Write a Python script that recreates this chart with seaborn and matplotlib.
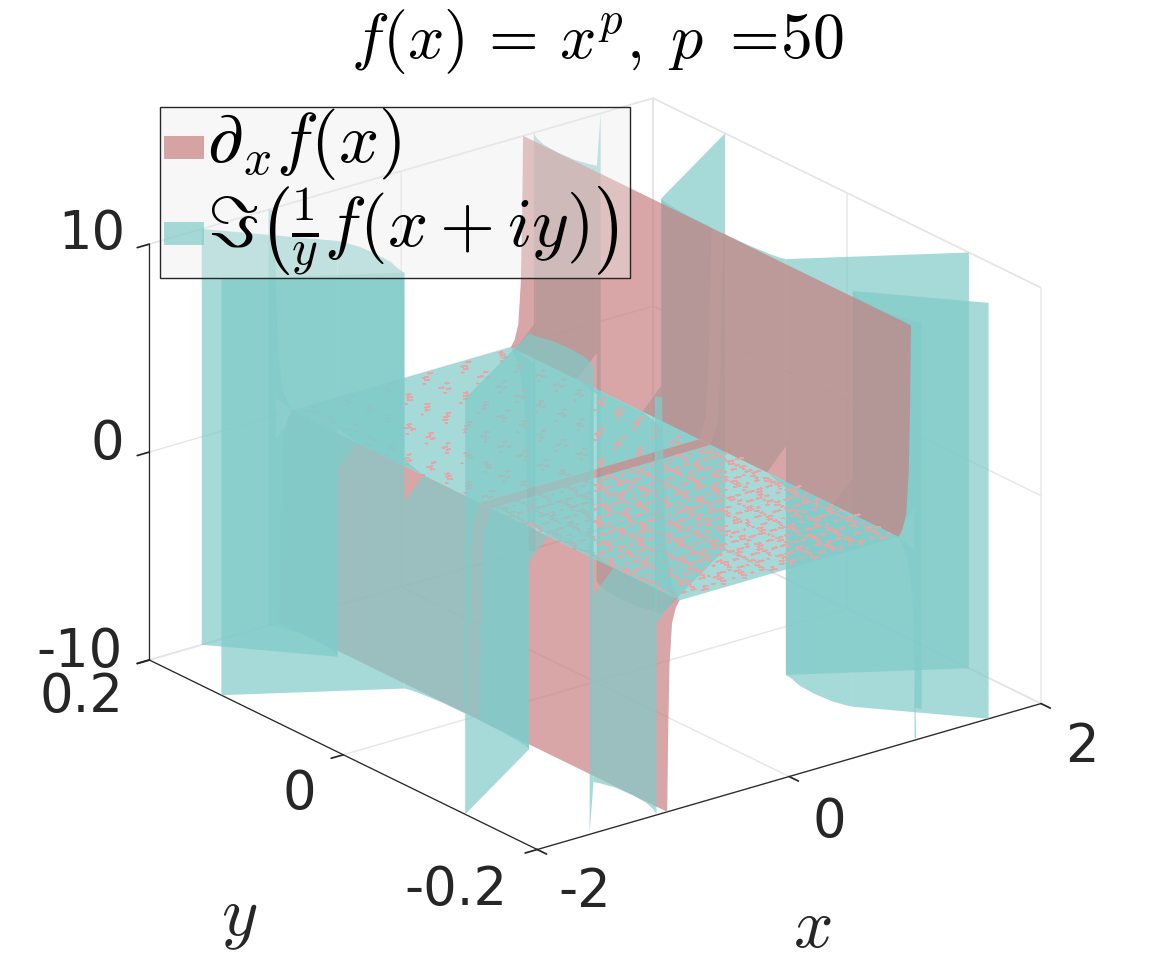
import numpy as np
import matplotlib
matplotlib.use("Agg")
import matplotlib.pyplot as plt
from matplotlib.patches import Patch, Rectangle
from matplotlib.legend_handler import HandlerPatch
from mpl_toolkits.mplot3d import proj3d
from mpl_toolkits.mplot3d.art3d import Poly3DCollection
import seaborn as sns

# ---- values ----
x_ticks = [-2, 0, 2]
y_ticks = [-0.2, 0, 0.2]
z_ticks = [-10, 0, 10]
x_tick_labels = ['-2', '0', '2']
y_tick_labels = ['-0.2', '0', '0.2']
z_tick_labels = ['-10', '0', '10']
title_text = r'$f(x)\,=\,x^p,\;p\;=\!50$'
label_red = r'$\partial_x f(x)$'
label_cyan = r'$\Im\left(\frac{1}{y}f(x+iy)\right)$'

# red sheet: height against |x| (odd in x, the same for every y)
red_abs_x = [0.87, 0.90, 0.93, 0.95, 0.96, 0.968]
red_abs_z = [0, 0.3, 1, 3, 6, 10]

# cyan vertical sheets running outward (first quadrant, mirrored in x and y)
ray_x_inner = [1.02, 1.03, 1.03]
ray_y_inner = [0.0642, 0.132, 0.1956]
ray_x_outer = [2.0, 1.584, 1.053]
ray_y_outer = [0.1257, 0.2, 0.2]
short_ray_bottom = -8.6

# cyan rim sheets near |x| = 1: height levels, footprint rows per level
rim_levels = [0, 1, 3, 10]
rim_y = [
    [0.006, 0.03, 0.05, 0.0600, 0.0642],
    [0.0642, 0.072, 0.083, 0.0995, 0.116, 0.127, 0.132],
    [0.132, 0.137, 0.148, 0.164, 0.18, 0.191, 0.1956],
    [0.1956, 0.2],
]
rim_x = [
    [[.87, .87, .87, .87, .87], [.925, .927, .935, .95, 1.02],
     [.945, .95, .97, .985, 1.02], [.97, .975, .99, 1.005, 1.02]],
    [[.87] * 7, [1.02, .95, .93, .925, .93, .95, 1.03],
     [1.02, .985, .955, .945, .955, .985, 1.03], [1.02, 1.01, .98, .97, .98, 1.01, 1.03]],
    [[.87] * 7, [1.03, .95, .93, .925, .93, .95, 1.03],
     [1.03, .985, .955, .945, .955, .985, 1.03], [1.03, 1.01, .98, .97, .98, 1.01, 1.03]],
    [[.87, .87], [1.03, .935], [1.03, .98], [1.03, 1.01]],
]
rim_sign = [1, -1, 1, -1]
plate_half_x = 0.87
stripe_half_y = 0.006

# pixel offsets (right, down) of each label from the point on its axis
x_label_offset = [(47, 42), (40, 45), (41, 43)]
y_label_offset = [(-81, 40), (-44, 39), (-68, 37)]
z_label_offset = [(-70, -8), (-42, -8), (-58, -10)]
x_title_offset = (23, 151)
y_title_offset = (-104, 164)

red_rgba = (200 / 255, 128 / 255, 128 / 255, 0.7)
cyan_rgba = (128 / 255, 203 / 255, 201 / 255, 0.7)
fleck_rgb = '#e6a6a6'

sns.set_theme(style='white')
plt.rcParams['font.family'] = ['DejaVu Sans']
plt.rcParams['mathtext.fontset'] = 'cm'
plt.rcParams['axes.unicode_minus'] = False
ink = '#262626'


def outline(X, Y, Z):
    """Boundary of a row-by-column sheet as one polygon."""
    X, Y, Z = np.asarray(X, float), np.asarray(Y, float), np.asarray(Z, float)
    idx = ([(0, j) for j in range(X.shape[1])]
           + [(i, X.shape[1] - 1) for i in range(1, X.shape[0])]
           + [(X.shape[0] - 1, j) for j in range(X.shape[1] - 2, -1, -1)]
           + [(i, 0) for i in range(X.shape[0] - 2, 0, -1)])
    return [(X[p], Y[p], Z[p]) for p in idx]


def depth(poly):
    p = np.asarray(poly)
    return np.mean(0.61 * p[:, 0] / 4 + 0.79 * p[:, 1] / 0.4)


def red_wall(sx):
    xs = sx * np.array(red_abs_x)
    zs = sx * np.array(red_abs_z)
    return outline(np.vstack([xs, xs]),
                   np.vstack([np.full_like(xs, y_ticks[0]), np.full_like(xs, y_ticks[2])]),
                   np.vstack([zs, zs]))


def cyan_walls(sx):
    polys = []
    for sy in (1, -1):
        for k in range(3):
            bottom = short_ray_bottom if (k == 2 and sx > 0 and sy < 0) else z_ticks[0]
            polys.append(outline(sx * np.array([[ray_x_inner[k], ray_x_outer[k]]] * 2),
                                 sy * np.array([[ray_y_inner[k], ray_y_outer[k]]] * 2),
                                 [[bottom] * 2, [z_ticks[2]] * 2]))
        for s in range(4):
            ys = np.array(rim_y[s])
            polys.append(outline(sx * np.array(rim_x[s], float),
                                 sy * np.vstack([ys] * len(rim_levels)),
                                 sx * rim_sign[s] * np.array([[v] * len(ys) for v in rim_levels], float)))
    return sorted(polys, key=depth, reverse=True)


fig = plt.figure(figsize=(11.52, 9.68), dpi=100)
S = 900
cx, cy = 583, 486
ax = fig.add_axes([(cx - S / 2) / 1152, (968 - cy - S / 2) / 968, S / 1152, S / 968],
                  projection='3d')
ax.set_proj_type('ortho')
ax.view_init(elev=22.1, azim=-127.6)
ax.set_box_aspect((636, 636, 449), zoom=1.084)
ax.computed_zorder = False
ax.set_xlim(x_ticks[0], x_ticks[-1], view_margin=0)
ax.set_ylim(y_ticks[0], y_ticks[-1], view_margin=0)
ax.set_zlim(z_ticks[0], z_ticks[-1], view_margin=0)

order = [10]


def put(polys, rgba, aa=True):
    col = Poly3DCollection(polys, facecolors=[rgba], edgecolors='none', linewidths=0,
                           antialiased=aa, zorder=order[0])
    ax.add_collection3d(col, autolim=False)
    order[0] += 1


# far side first, near side last
for poly in cyan_walls(1):
    put([poly], cyan_rgba)
put([red_wall(1)], red_rgba)

# flat middle: cyan with the red sheet showing through in flecks and along y = 0
px = plate_half_x
for y0, y1 in ((stripe_half_y, y_ticks[2]), (y_ticks[0], -stripe_half_y)):
    put([[(-px, y0, 0), (px, y0, 0), (px, y1, 0), (-px, y1, 0)]], cyan_rgba)
put([[(-px, -stripe_half_y, 0), (px, -stripe_half_y, 0),
      (px, stripe_half_y, 0), (-px, stripe_half_y, 0)]], red_rgba)
flecks = []
rows = np.arange(y_ticks[0] + 0.004, y_ticks[2], 0.004)
cols = np.arange(-px, px - 0.05, 0.06)
for j, yy in enumerate(rows):
    for i, xx in enumerate(cols):
        pick = (11 * i + 3 * j * j + i * j) % (3 if yy < 0 else 5)
        if pick < 1 and abs(yy) > stripe_half_y:
            x0 = xx + 0.05 * ((5 * j * j + 3 * i) % 13) / 13
            x1 = x0 + 0.012 + 0.009 * ((i * i + j) % 5)
            flecks.append([(x0, yy, 0), (x1, yy, 0), (x1, yy + 0.0018, 0), (x0, yy + 0.0018, 0)])
put(flecks, fleck_rgb, aa=False)

put([red_wall(-1)], red_rgba)
for poly in cyan_walls(-1):
    put([poly], cyan_rgba)

ax.set_xticks(x_ticks, [''] * 3)
ax.set_yticks(y_ticks, [''] * 3)
ax.set_zticks(z_ticks, [''] * 3)
for axis in (ax.xaxis, ax.yaxis, ax.zaxis):
    axis.pane.set_facecolor('white')
    axis.pane.set_edgecolor('#e2e2e2')
    axis.pane.set_alpha(1)
    axis.line.set_color(ink)
    axis.line.set_linewidth(0.9)
    axis._axinfo['grid'].update(color='#e6e6e6', linewidth=1.0)
    axis._axinfo['tick'].update(inward_factor=0.3, outward_factor=0.0, color=ink)
ax.grid(True)

M = ax.get_proj()


def axis_text(text, point, offset, **kw):
    X, Y, _ = proj3d.proj_transform(*point, M)
    ax.annotate(text, xy=(X, Y), xycoords='data', xytext=(offset[0], -offset[1]),
                textcoords='offset pixels', ha='center', va='center',
                annotation_clip=False, zorder=1000, **kw)


for val, lab, off in zip(x_ticks, x_tick_labels, x_label_offset):
    axis_text(lab, (val, y_ticks[0], z_ticks[0]), off, fontsize=38, color=ink)
for val, lab, off in zip(y_ticks, y_tick_labels, y_label_offset):
    axis_text(lab, (x_ticks[0], val, z_ticks[0]), off, fontsize=38, color=ink)
for val, lab, off in zip(z_ticks, z_tick_labels, z_label_offset):
    axis_text(lab, (x_ticks[0], y_ticks[2], val), off, fontsize=38, color=ink)
axis_text('$x$', (x_ticks[1], y_ticks[0], z_ticks[0]), x_title_offset, fontsize=50, color=ink)
axis_text('$y$', (x_ticks[0], y_ticks[1], z_ticks[0]), y_title_offset, fontsize=50, color=ink)

fig.text(598 / 1152, 1 - 42 / 968, title_text, fontsize=46, color='black',
         ha='center', va='center')

# legend box drawn at its own size, the entries go on top of it
fig.add_artist(Rectangle((160 / 1152, 1 - 278 / 968), 470 / 1152, 171 / 968,
                         transform=fig.transFigure, facecolor=(0.92, 0.92, 0.92, 0.4),
                         edgecolor=ink, linewidth=1.0, zorder=4))


def legend_swatch(legend, orig_handle, xdescent, ydescent, width, height, fontsize):
    return Rectangle((4.0, 1.6), 28.6, 16.6)


handles = [Patch(color=red_rgba[:3], alpha=0.7, linewidth=0),
           Patch(color=cyan_rgba[:3], alpha=0.7, linewidth=0)]
leg = fig.legend(handles, [label_red, label_cyan], loc='upper left',
                 bbox_to_anchor=(160 / 1152, 1 - 107 / 968), borderaxespad=0,
                 fontsize=51, fancybox=False, frameon=False, handlelength=0.6,
                 handleheight=0.33, handletextpad=0.08, borderpad=-0.02, labelspacing=0.04,
                 handler_map={Patch: HandlerPatch(patch_func=legend_swatch)})
for t in leg.get_texts():
    t.set_color('black')

fig.savefig('out.png', dpi=100, facecolor='white')
